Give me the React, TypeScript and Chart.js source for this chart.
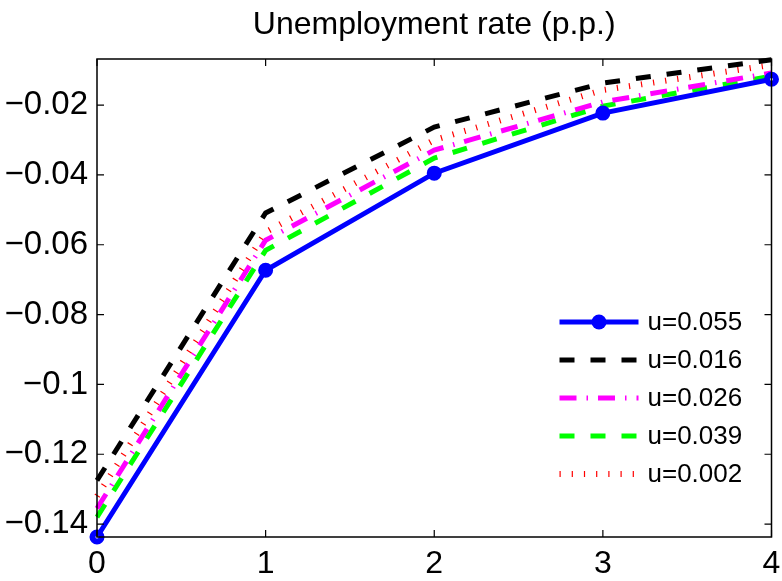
import { useEffect, useRef } from 'react';
import { Chart, registerables } from 'chart.js';

const xValues = [0, 1, 2, 3, 4];
const xTicks = [0, 1, 2, 3, 4];
const yTicks = [-0.14, -0.12, -0.1, -0.08, -0.06, -0.04, -0.02];

const seriesLabels = ['u=0.055', 'u=0.016', 'u=0.026', 'u=0.039', 'u=0.002'];
const blueValues = [-0.1437, -0.0673, -0.0395, -0.0223, -0.0126];
const blackValues = [-0.1275, -0.0509, -0.0263, -0.0137, -0.0070];
const magentaValues = [-0.1355, -0.0587, -0.0329, -0.0191, -0.0108];
const greenValues = [-0.1380, -0.0616, -0.0352, -0.0203, -0.0117];
const redValues = [-0.1320, -0.0564, -0.0300, -0.0157, -0.0085];

const FONT = "'Liberation Sans', Arial, Helvetica, sans-serif";

function fmt(v: number) {
  const s = parseFloat(Math.abs(v).toFixed(2)).toString();
  return (v < 0 ? '\u2212' : '') + s;
}

// MATLAB-like frame: box on all sides with inward ticks, plus legend inside
const framePlugin = {
  id: 'frame',
  afterDatasetsDraw(chart: any) {
    const { ctx, chartArea: a, scales } = chart;
    const len = 7;
    ctx.save();
    ctx.strokeStyle = '#000';
    ctx.lineWidth = 1.5;
    ctx.setLineDash([]);
    ctx.strokeRect(a.left, a.top, a.right - a.left, a.bottom - a.top);
    ctx.lineWidth = 1.2;
    ctx.beginPath();
    xTicks.forEach((t) => {
      const px = scales.x.getPixelForValue(t);
      ctx.moveTo(px, a.bottom);
      ctx.lineTo(px, a.bottom - len);
      ctx.moveTo(px, a.top);
      ctx.lineTo(px, a.top + len);
    });
    yTicks.forEach((t) => {
      const py = scales.y.getPixelForValue(t);
      ctx.moveTo(a.left, py);
      ctx.lineTo(a.left + len, py);
      ctx.moveTo(a.right, py);
      ctx.lineTo(a.right - len, py);
    });
    ctx.stroke();
    ctx.restore();
  },
  afterDraw(chart: any) {
    const { ctx, chartArea: a } = chart;
    const x0 = a.right - 212;
    const x1 = a.right - 133;
    const tx = a.right - 124;
    const top = a.bottom - 215;
    const rowH = 38;
    ctx.save();
    chart.data.datasets.forEach((ds: any, i: number) => {
      const y = top + i * rowH;
      ctx.beginPath();
      ctx.strokeStyle = ds.borderColor;
      ctx.lineWidth = ds.borderWidth;
      ctx.lineCap = 'butt';
      ctx.setLineDash(ds.borderDash || []);
      ctx.moveTo(x0, y);
      ctx.lineTo(x1, y);
      ctx.stroke();
      if (ds.pointRadius > 0) {
        ctx.setLineDash([]);
        ctx.beginPath();
        ctx.fillStyle = ds.borderColor;
        ctx.arc((x0 + x1) / 2, y, ds.pointRadius + ds.pointBorderWidth / 2, 0, Math.PI * 2);
        ctx.fill();
      }
      ctx.setLineDash([]);
      ctx.fillStyle = '#000';
      ctx.font = `26px ${FONT}`;
      ctx.textBaseline = 'middle';
      ctx.textAlign = 'left';
      ctx.fillText(ds.label, tx, y + 1);
    });
    ctx.restore();
  },
};

function toPoints(values: number[]) {
  return xValues.map((x, i) => ({ x, y: values[i] }));
}

export default function App() {
  const chartRef = useRef<HTMLCanvasElement>(null);
  const chartInstanceRef = useRef<Chart | null>(null);

  useEffect(() => {
    if (!chartRef.current) return;
    document.body.style.margin = '0';

    Chart.register(...registerables);

    if (chartInstanceRef.current) {
      chartInstanceRef.current.destroy();
    }

    const ctx = chartRef.current.getContext('2d');
    if (!ctx) return;

    const common = { fill: false, tension: 0, clip: false as any, borderCapStyle: 'butt' as const };

    chartInstanceRef.current = new Chart(ctx, {
      type: 'line',
      data: {
        datasets: [
          {
            ...common,
            label: seriesLabels[0],
            data: toPoints(blueValues),
            borderColor: '#0000ff',
            borderWidth: 5,
            pointRadius: 4.5,
            pointBorderWidth: 6,
            // line passes through the inner markers, so only the end ones show a hole
            pointBackgroundColor: xValues.map((_, i) =>
              i === 0 || i === xValues.length - 1 ? '#ffffff' : '#0000ff'
            ),
            pointBorderColor: '#0000ff',
            pointHoverRadius: 4.5,
          },
          {
            ...common,
            label: seriesLabels[1],
            data: toPoints(blackValues),
            borderColor: '#000000',
            borderWidth: 5,
            borderDash: [15, 16],
            pointRadius: 0,
          },
          {
            ...common,
            label: seriesLabels[2],
            data: toPoints(magentaValues),
            borderColor: '#ff00ff',
            borderWidth: 5,
            borderDash: [17, 10, 1.5, 10],
            pointRadius: 0,
          },
          {
            ...common,
            label: seriesLabels[3],
            data: toPoints(greenValues),
            borderColor: '#00ff00',
            borderWidth: 5,
            borderDash: [15, 16],
            pointRadius: 0,
          },
          {
            ...common,
            label: seriesLabels[4],
            data: toPoints(redValues),
            borderColor: '#ff0000',
            borderWidth: 6,
            borderDash: [1.2, 11],
            pointRadius: 0,
          },
        ] as any,
      },
      options: {
        animation: false,
        responsive: false,
        maintainAspectRatio: false,
        layout: { padding: { left: 0, right: 10, top: 0, bottom: 0 } },
        font: { family: FONT } as any,
        plugins: {
          legend: { display: false },
          tooltip: { enabled: false },
          title: {
            display: true,
            fullSize: false,
            text: 'Unemployment rate (p.p.)',
            color: '#000',
            font: { family: FONT, size: 32, weight: 'normal' },
            padding: { top: 6, bottom: 14.6 },
          },
        },
        scales: {
          x: {
            type: 'linear',
            min: 0,
            max: 4,
            afterBuildTicks: (scale: any) => {
              scale.ticks = xTicks.map((v) => ({ value: v }));
            },
            afterFit: (scale: any) => {
              scale.height = 44;
              scale.paddingLeft = 0;
              scale.paddingRight = 0;
            },
            grid: { display: false, drawTicks: false },
            border: { display: false },
            ticks: {
              color: '#000',
              padding: 8,
              maxRotation: 0,
              font: { family: FONT, size: 32 },
              callback: (v: any) => String(v),
            },
          },
          y: {
            type: 'linear',
            min: -0.1437,
            max: -0.0068,
            afterBuildTicks: (scale: any) => {
              scale.ticks = yTicks.map((v) => ({ value: v }));
            },
            afterFit: (scale: any) => {
              scale.width = 97;
              scale.paddingTop = 0;
              scale.paddingBottom = 0;
            },
            grid: { display: false, drawTicks: false },
            border: { display: false },
            ticks: {
              color: '#000',
              padding: 9,
              font: { family: FONT, size: 33 },
              callback: (v: any) => fmt(Number(v)),
            },
          },
        },
      },
      plugins: [framePlugin],
    });

    return () => {
      if (chartInstanceRef.current) {
        chartInstanceRef.current.destroy();
        chartInstanceRef.current = null;
      }
    };
  }, []);

  return (
    <div style={{ position: 'relative', width: 782, height: 581, background: '#fff' }}>
      <canvas ref={chartRef} width={782} height={581} style={{ width: 782, height: 581 }} />
    </div>
  );
}
